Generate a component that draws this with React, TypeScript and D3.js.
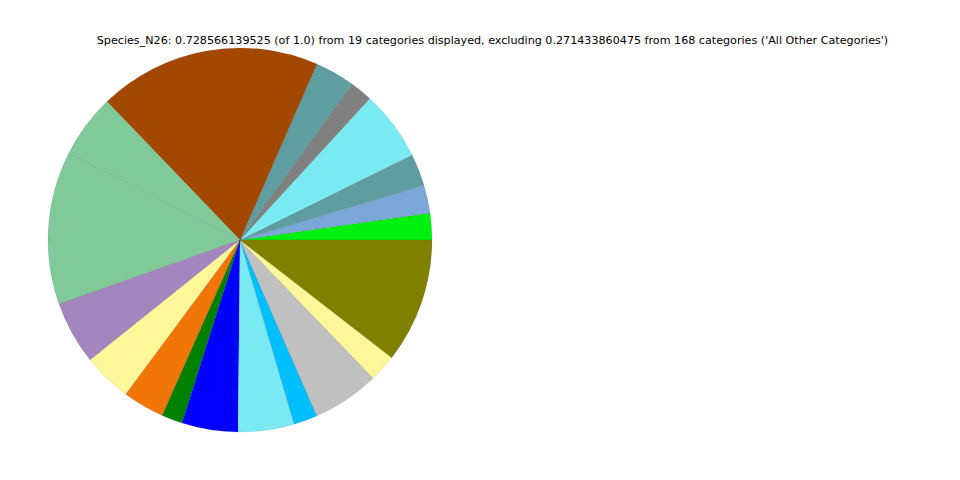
import { useRef, useEffect } from "react"
import * as d3 from "d3"

const title =
  "Species_N26: 0.728566139525 (of 1.0) from 19 categories displayed, excluding 0.271433860475 from 168 categories ('All Other Categories')"

// slice fractions, counter-clockwise from 3 o'clock
const values = [
  0.0164, 0.0172, 0.0196, 0.0429, 0.0138, 0.0245, 0.1366, 0.0395, 0.0933, 0.0389,
  0.03, 0.0255, 0.0128, 0.0344, 0.0344, 0.0146, 0.0411, 0.0168, 0.0765,
]

const colors = [
  "#00f010", "#7ba7d8", "#5f9ea0", "#7aeaf2", "#808080", "#5f9ea0", "#a34800",
  "#80ca9a", "#80ca9a", "#a386be", "#fef799", "#f27507", "#008000", "#0000ff",
  "#7aeaf2", "#00bfff", "#c0c0c0", "#fef799", "#808000",
]

export default function App() {
  const svgRef = useRef<SVGSVGElement>(null)

  useEffect(() => {
    if (!svgRef.current) return
    const svg = d3.select(svgRef.current)
    svg.selectAll("*").remove()

    const cx = 240
    const cy = 240
    const r = 192

    // d3 pie angles are clockwise from 12 o'clock; map so slices go ccw from 3 o'clock
    const pie = d3
      .pie<number>()
      .sort(null)
      .startAngle(Math.PI / 2)
      .endAngle(Math.PI / 2 - 2 * Math.PI)

    const arc = d3.arc<d3.PieArcDatum<number>>().innerRadius(0).outerRadius(r)

    svg
      .append("g")
      .attr("transform", `translate(${cx},${cy})`)
      .selectAll("path")
      .data(pie(values))
      .enter()
      .append("path")
      .attr("d", arc)
      .attr("fill", (_, i) => colors[i])
      .attr("stroke", "rgba(0,0,0,0.2)")
      .attr("stroke-width", 0.4)

    svg
      .append("text")
      .attr("x", 492.5)
      .attr("y", 44)
      .attr("text-anchor", "middle")
      .style("font-family", "DejaVu Sans")
      .style("font-size", "11.15px")
      .text(title)
  }, [])

  return (
    <svg
      ref={svgRef}
      width={960}
      height={480}
      style={{ position: "absolute", left: 0, top: 0, background: "white" }}
    />
  )
}
